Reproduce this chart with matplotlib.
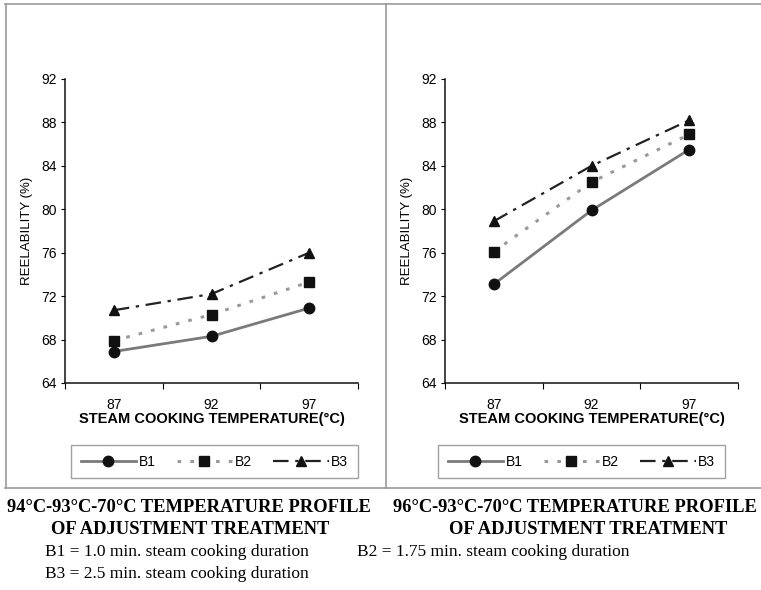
import matplotlib
matplotlib.use("Agg")
import matplotlib.pyplot as plt
from matplotlib.lines import Line2D

# Data
temperatures = ["87", "92", "97"]
left_b1 = [66.9, 68.3, 70.9]
left_b2 = [67.9, 70.3, 73.3]
left_b3 = [70.7, 72.2, 76.0]
right_b1 = [73.1, 79.9, 85.5]
right_b2 = [76.1, 82.5, 86.9]
right_b3 = [78.9, 84.0, 88.2]
series_names = ["B1", "B2", "B3"]
y_ticks = [64, 68, 72, 76, 80, 84, 88, 92]
captions_left = ["94°C-93°C-70°C TEMPERATURE PROFILE", "OF ADJUSTMENT TREATMENT"]
captions_right = ["96°C-93°C-70°C TEMPERATURE PROFILE", "OF ADJUSTMENT TREATMENT"]
notes = ["B1 = 1.0 min. steam cooking duration",
         "B2 = 1.75 min. steam cooking duration",
         "B3 = 2.5 min. steam cooking duration"]

W, H = 761, 590
fig = plt.figure(figsize=(W / 100, H / 100), dpi=100)
fig.patch.set_facecolor("white")

sans = "Liberation Sans"
serif = "Liberation Serif"

styles = [
    dict(color="#7a7a7a", linestyle="-", linewidth=2.0, marker="o", markersize=7.5,
         markerfacecolor="#111111", markeredgecolor="#111111"),
    dict(color="#9a9a9a", linestyle=(0, (1.2, 3.0)), linewidth=2.2, marker="s", markersize=7.5,
         markerfacecolor="#111111", markeredgecolor="#111111"),
    dict(color="#222222", linestyle=(0, (7, 3, 1.5, 3)), linewidth=1.6, marker="^", markersize=7.5,
         markerfacecolor="#111111", markeredgecolor="#111111"),
]


def px_rect(x0, y0, x1, y1):
    return [x0 / W, 1 - y1 / H, (x1 - x0) / W, (y1 - y0) / H]


def draw_panel(rect, series, legend_box):
    ax = fig.add_axes(rect)
    xs = list(range(len(temperatures)))
    handles = []
    for vals, st, name in zip(series, styles, series_names):
        h, = ax.plot(xs, vals, label=name, **st)
        handles.append(h)
    ax.set_xlim(-0.5, len(temperatures) - 0.5)
    ax.set_ylim(64, 92)
    ax.set_yticks(y_ticks)
    ax.set_yticklabels([str(v) for v in y_ticks], fontfamily=sans, fontsize=10)
    ax.set_xticks(xs)
    ax.set_xticklabels(temperatures, fontfamily=sans, fontsize=10)
    ax.tick_params(axis="x", which="major", length=0, pad=11)
    ax.set_xticks([x + 0.5 for x in [-1] + xs], minor=True)
    ax.tick_params(axis="x", which="minor", length=4, direction="out", width=0.8)
    ax.tick_params(axis="y", length=3, direction="out", width=0.8, pad=3)
    for s in ("top", "right"):
        ax.spines[s].set_visible(False)
    for s in ("left", "bottom"):
        ax.spines[s].set_linewidth(1.1)
        ax.spines[s].set_color("#111111")
    ax.set_xlabel("STEAM COOKING TEMPERATURE(°C)", fontfamily=sans, fontsize=10.5,
                  fontweight="bold", labelpad=0)
    ax.set_ylabel("REELABILITY (%)", fontfamily=sans, fontsize=9.5, labelpad=6)
    leg = fig.legend(handles=handles, loc="center", ncol=3,
                     bbox_to_anchor=legend_box, bbox_transform=fig.transFigure,
                     prop={"family": sans, "size": 10}, frameon=True, fancybox=False,
                     handlelength=4.0, columnspacing=1.5, handletextpad=0.2,
                     borderpad=0.7)
    leg.get_frame().set_edgecolor("#8a8a8a")
    leg.get_frame().set_linewidth(1.0)
    return ax


draw_panel(px_rect(65, 79, 358, 383), [left_b1, left_b2, left_b3],
           (72 / W, 1 - 478 / H, 285 / W, 33 / H))
draw_panel(px_rect(445, 79, 738, 383), [right_b1, right_b2, right_b3],
           (440 / W, 1 - 478 / H, 283 / W, 33 / H))

# Panel frames
frame_kw = dict(color="#9a9a9a", linewidth=1.2, transform=fig.transFigure)
for (x0, y0, x1, y1) in [(5, 4, 761, 4), (6, 4, 6, 488), (386, 4, 386, 488), (5, 488, 761, 488)]:
    fig.add_artist(Line2D([x0 / W, x1 / W], [1 - y0 / H, 1 - y1 / H], **frame_kw))

# Captions
cap_kw = dict(fontfamily=serif, fontweight="bold", fontsize=13.3, va="center")
fig.text(189 / W, 1 - 507 / H, captions_left[0], ha="center", **cap_kw)
fig.text(190 / W, 1 - 530 / H, captions_left[1], ha="center", **cap_kw)
fig.text(393 / W, 1 - 507 / H, captions_right[0], ha="left", **cap_kw)
fig.text(588 / W, 1 - 530 / H, captions_right[1], ha="center", **cap_kw)

note_kw = dict(fontfamily=serif, fontsize=12.5, va="center", ha="left")
fig.text(45 / W, 1 - 552 / H, notes[0], **note_kw)
fig.text(357 / W, 1 - 552 / H, notes[1], **note_kw)
fig.text(45 / W, 1 - 574 / H, notes[2], **note_kw)

fig.savefig("out.png", dpi=100, facecolor="white")
